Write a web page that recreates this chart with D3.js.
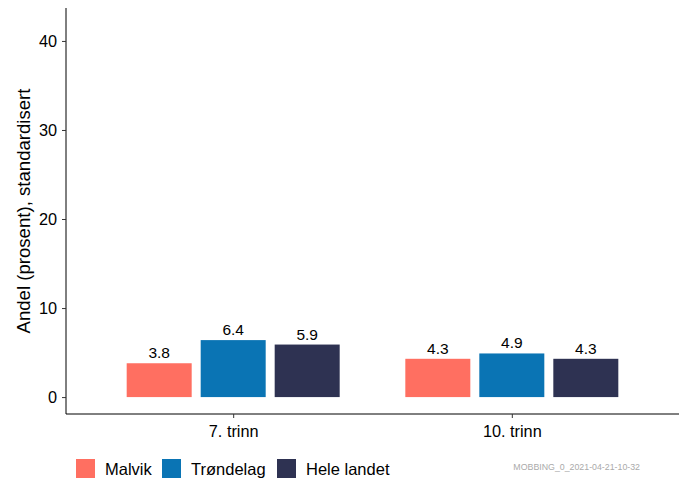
<!DOCTYPE html>
<html lang="no">
<head>
<meta charset="UTF-8">
<title>Mobbing</title>
<script src="https://d3js.org/d3.v7.min.js"></script>
<style>
  body { margin: 0; background: #fff; }
  text { font-family: "Liberation Sans", Arial, sans-serif; }
</style>
</head>
<body>
<div id="chart"></div>
<script>
const trinn = ["7. trinn", "10. trinn"];
const grupper = ["Malvik", "Trøndelag", "Hele landet"];
const verdier = {
  "Malvik": [3.8, 4.3],
  "Trøndelag": [6.4, 4.9],
  "Hele landet": [5.9, 4.3]
};
const farger = ["#ff6f61", "#0a74b4", "#2e3252"];
const yTicks = [0, 10, 20, 30, 40];

const W = 687, H = 481;
const pLeft = 66, pRight = 679, pTop = 8, pBottom = 414;

const svg = d3.select("#chart").append("svg")
  .attr("width", W).attr("height", H);

const y = d3.scaleLinear().domain([-1.9, 43.7]).range([pBottom, pTop]);

// discrete x with ggplot-like expansion
const x = d3.scalePoint().domain(trinn).range([pLeft, pRight]).padding(0.6);
const barW = 65, gap = 9;
const inner = d3.scaleBand().domain(grupper)
  .range([-(3 * barW + 2 * gap) / 2, (3 * barW + 2 * gap) / 2])
  .paddingInner(gap / (barW + gap));

const data = [];
trinn.forEach((t, i) => grupper.forEach(g => data.push({ t, g, v: verdier[g][i] })));

svg.selectAll("rect.bar").data(data).enter().append("rect")
  .attr("class", "bar")
  .attr("x", d => x(d.t) + inner(d.g))
  .attr("width", inner.bandwidth())
  .attr("y", d => y(d.v))
  .attr("height", d => y(0) - y(d.v))
  .attr("fill", d => farger[grupper.indexOf(d.g)]);

svg.selectAll("text.lbl").data(data).enter().append("text")
  .attr("class", "lbl")
  .attr("x", d => x(d.t) + inner(d.g) + inner.bandwidth() / 2)
  .attr("y", d => y(d.v) - 5)
  .attr("text-anchor", "middle")
  .attr("font-size", 15.5)
  .attr("fill", "#000")
  .text(d => d.v.toFixed(1));

// y axis
const yAxis = svg.append("g")
  .attr("transform", `translate(${pLeft},0)`)
  .call(d3.axisLeft(y).tickValues(yTicks).tickSize(4).tickPadding(5));
yAxis.select(".domain").attr("d", `M0,${pTop}V${pBottom}`).attr("stroke", "#000");
yAxis.selectAll(".tick line").attr("stroke", "#333");
yAxis.selectAll(".tick text").attr("font-size", 16.3).attr("fill", "#000")
  .style("font-family", "Liberation Sans, Arial, sans-serif");

// x axis
const xAxis = svg.append("g")
  .attr("transform", `translate(0,${pBottom})`)
  .call(d3.axisBottom(x).tickSize(4).tickPadding(7));
xAxis.select(".domain").attr("d", `M${pLeft},0H${pRight}`).attr("stroke", "#000");
xAxis.selectAll(".tick line").attr("stroke", "#333");
xAxis.selectAll(".tick text").attr("font-size", 16.3).attr("fill", "#000")
  .style("font-family", "Liberation Sans, Arial, sans-serif");

// y title
svg.append("text")
  .attr("transform", `translate(30,${(pTop + pBottom) / 2}) rotate(-90)`)
  .attr("text-anchor", "middle")
  .attr("font-size", 18.6)
  .text("Andel (prosent), standardisert");

// legend
const legendX = [76, 162, 277];
const leg = svg.selectAll("g.leg").data(grupper).enter().append("g")
  .attr("class", "leg")
  .attr("transform", (d, i) => `translate(${legendX[i]},459)`);
leg.append("rect").attr("width", 19).attr("height", 19)
  .attr("fill", (d, i) => farger[i]);
leg.append("text").attr("x", 29).attr("y", 16).attr("font-size", 16.5).text(d => d);

// caption
svg.append("text")
  .attr("x", 640).attr("y", 470)
  .attr("text-anchor", "end")
  .attr("font-size", 8.8)
  .attr("fill", "#aaa")
  .text("MOBBING_0_2021-04-21-10-32");
</script>
</body>
</html>
